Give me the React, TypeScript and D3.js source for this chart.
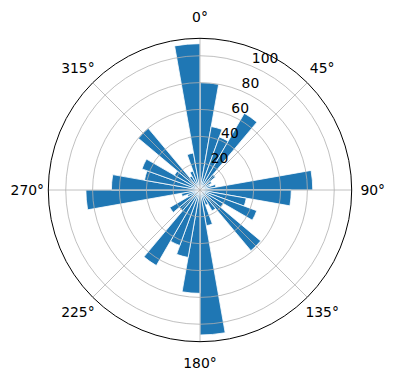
import React from "react";
import * as d3 from "d3";

const binStarts = [0, 10, 20, 30, 40, 50, 60, 70, 80, 90, 100, 110, 120, 130, 140, 150, 160, 170, 180, 190, 200, 210, 220, 230, 240, 250, 260, 270, 280, 290, 300, 310, 320, 330, 340, 350];
const binValues = [80, 48, 42, 66, 15, 10, 8, 12, 84, 68, 35, 45, 20, 59, 18, 12, 27, 108, 77, 51, 44, 65, 20, 26, 10, 14, 85, 66, 42, 46, 22, 60, 12, 15, 28, 109];
const binWidth = 10;
const radialTicks = [20, 40, 60, 80, 100];
const angleTicks = [0, 45, 90, 135, 180, 225, 270, 315];
const angleTickLabels = ["0°", "45°", "90°", "135°", "180°", "225°", "270°", "315°"];
const rMax = 113;

const W = 396;
const H = 380;
const cx = 200;
const cy = 190;
const R = 151.7;
const FONT = "DejaVu Sans, sans-serif";

export default function App() {
  const r = d3.scaleLinear().domain([0, rMax]).range([0, R]);
  const toRad = (d: number) => (d * Math.PI) / 180;
  const arc = d3.arc<any>();
  const pt = (deg: number, rad: number) => [cx + rad * Math.sin(toRad(deg)), cy - rad * Math.cos(toRad(deg))];
  const rlabAngle = 22.5;

  return (
    <div style={{ position: "fixed", left: 0, top: 0 }}>
      <svg width={W} height={H} style={{ display: "block", background: "#fff" }}>
        <g transform={`translate(${cx},${cy})`}>
          {binStarts.map((s, i) => (
            <path
              key={i}
              d={arc({ innerRadius: 0, outerRadius: r(binValues[i]), startAngle: toRad(s), endAngle: toRad(s + binWidth) }) as string}
              fill="#1f77b4"
              stroke="#ffffff"
              strokeWidth={0.8}
              strokeLinejoin="miter"
            />
          ))}
        </g>
        {radialTicks.map((t) => (
          <circle key={t} cx={cx} cy={cy} r={r(t)} fill="none" stroke="#b0b0b0" strokeWidth={0.8} />
        ))}
        {angleTicks.map((a) => {
          const [x, y] = pt(a, R);
          return <line key={a} x1={cx} y1={cy} x2={x} y2={y} stroke="#b0b0b0" strokeWidth={0.8} />;
        })}
        <circle cx={cx} cy={cy} r={R} fill="none" stroke="#000" strokeWidth={1} />
        {radialTicks.map((t) => {
          const [x, y] = pt(rlabAngle, r(t));
          return (
            <text key={t} x={x + 0.5} y={y - 2.5} fontFamily={FONT} fontSize={13.9} fill="#000">
              {t}
            </text>
          );
        })}
        {angleTicks.map((a, i) => {
          const [x, y] = pt(a, R + 21);
          return (
            <text key={a} x={x} y={y} dy="0.35em" textAnchor="middle" fontFamily={FONT} fontSize={13.9} fill="#000">
              {angleTickLabels[i]}
            </text>
          );
        })}
      </svg>
    </div>
  );
}
